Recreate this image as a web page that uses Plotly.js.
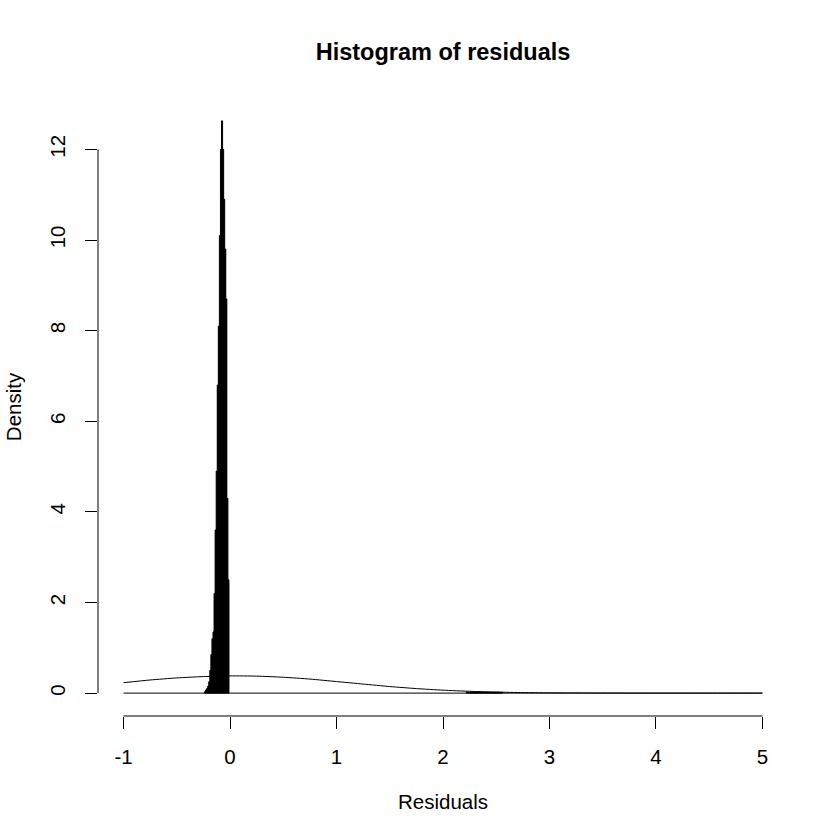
<!DOCTYPE html>
<html>
<head>
<meta charset="utf-8">
<script src="https://cdn.plot.ly/plotly-3.0.1.min.js"></script>
<style>
  html, body { margin: 0; padding: 0; background: #ffffff; }
  #chart { width: 840px; height: 840px; }
</style>
</head>
<body>
<div id="chart"></div>
<script>
// ---- Data ----
// Histogram bins (left edges, width 0.01) and their densities
const binWidth = 0.01;
const mainBinLeft = [-0.24, -0.23, -0.22, -0.21, -0.20, -0.19, -0.18, -0.17, -0.16, -0.15,
                     -0.14, -0.13, -0.12, -0.11, -0.10, -0.09, -0.08, -0.07, -0.06, -0.05,
                     -0.04, -0.03, -0.02];
const mainDensity = [0.03, 0.07, 0.10, 0.15, 0.25, 0.50, 0.85, 1.20, 1.35, 2.20,
                     3.60, 4.90, 6.80, 8.10, 10.10, 12.00, 12.63, 12.00, 10.90, 9.80,
                     8.70, 4.30, 2.50];
// small tail bins near 2.2 - 2.6
const tailBinLeft = [2.22, 2.23, 2.24, 2.25, 2.26, 2.27, 2.28, 2.29, 2.30, 2.31, 2.32,
                     2.33, 2.34, 2.35, 2.36, 2.37, 2.38, 2.39, 2.40, 2.41, 2.42, 2.43,
                     2.44, 2.45, 2.46, 2.47, 2.48, 2.49, 2.50, 2.51, 2.52, 2.53, 2.54, 2.55];
const tailDensity = [0.02, 0.02, 0.02, 0.02, 0.02, 0.02, 0.02, 0.02, 0.02, 0.02, 0.02,
                     0.02, 0.02, 0.02, 0.02, 0.02, 0.02, 0.02, 0.02, 0.02, 0.02, 0.02,
                     0.02, 0.02, 0.02, 0.02, 0.02, 0.02, 0.02, 0.02, 0.02, 0.02, 0.02, 0.02];
// range of the (mostly empty) histogram bins
const histRange = [-1, 5];
// overlaid density curve
const curveX = [-1, -0.75, -0.5, -0.25, 0, 0.25, 0.5, 0.75, 1, 1.25, 1.5, 1.75, 2, 2.25,
                2.5, 2.75, 3, 3.5, 4, 4.5, 5];
const curveY = [0.23, 0.29, 0.335, 0.365, 0.38, 0.375, 0.35, 0.31, 0.255, 0.20, 0.145,
                0.10, 0.065, 0.04, 0.022, 0.012, 0.006, 0.002, 0.0005, 0.0001, 0];
// axes
const xTicks = [-1, 0, 1, 2, 3, 4, 5];
const yTicks = [0, 2, 4, 6, 8, 10, 12];
const titleText = "Histogram of residuals";
const xTitle = "Residuals";
const yTitle = "Density";

// ---- Build traces ----
const binLeft = mainBinLeft.concat(tailBinLeft);
const binDensity = mainDensity.concat(tailDensity);
const binCenter = binLeft.map(v => v + binWidth / 2);

const bars = {
  type: 'bar',
  x: binCenter,
  y: binDensity,
  width: binWidth,
  marker: { color: '#000000', line: { color: '#000000', width: 1 } },
  hoverinfo: 'x+y',
  showlegend: false
};
const baseline = {
  type: 'scatter', mode: 'lines',
  x: histRange, y: [0, 0],
  line: { color: '#000000', width: 1 },
  hoverinfo: 'skip', showlegend: false
};
const curve = {
  type: 'scatter', mode: 'lines',
  x: curveX, y: curveY,
  line: { color: '#000000', width: 1, shape: 'spline', smoothing: 0.6 },
  showlegend: false
};

const font = { family: 'Arial, "Liberation Sans", sans-serif', color: '#000000', size: 20.5 };

const layout = {
  width: 840, height: 840,
  paper_bgcolor: '#ffffff', plot_bgcolor: '#ffffff',
  margin: { l: 98, r: 52, t: 98, b: 124, pad: 0 },
  font: font,
  showlegend: false,
  bargap: 0,
  title: {
    text: '<b>' + titleText + '</b>',
    font: { family: font.family, size: 23.5, color: '#000000' },
    x: 0.5, xanchor: 'center', xref: 'paper',
    y: 1 - 52 / 840, yanchor: 'middle', yref: 'container'
  },
  xaxis: {
    range: [-1.24, 5.24],
    tickmode: 'array', tickvals: xTicks, ticktext: xTicks.map(String),
    ticks: 'outside', ticklen: 12, tickwidth: 1, tickcolor: '#000000',
    ticklabelstandoff: 10,
    showline: false, showgrid: false, zeroline: false,
    tickfont: font,
    title: { text: xTitle, font: font, standoff: 28 },
    automargin: false, fixedrange: true
  },
  yaxis: {
    range: [-0.505, 13.135],
    tickmode: 'array', tickvals: yTicks, ticktext: yTicks.map(String),
    ticks: 'outside', ticklen: 12, tickwidth: 1, tickcolor: '#000000',
    tickangle: -90,
    ticklabelstandoff: 12,
    showline: false, showgrid: false, zeroline: false,
    tickfont: font,
    title: { text: yTitle, font: font, standoff: 18 },
    automargin: false, fixedrange: true
  },
  shapes: [
    { type: 'line', xref: 'x', yref: 'paper', x0: xTicks[0], x1: xTicks[xTicks.length - 1],
      y0: 0, y1: 0, line: { color: '#000000', width: 1 } },
    { type: 'line', xref: 'paper', yref: 'y', x0: 0, x1: 0,
      y0: yTicks[0], y1: yTicks[yTicks.length - 1], line: { color: '#000000', width: 1 } }
  ]
};

Plotly.newPlot('chart', [bars, baseline, curve], layout, { staticPlot: true, displayModeBar: false });
</script>
</body>
</html>
